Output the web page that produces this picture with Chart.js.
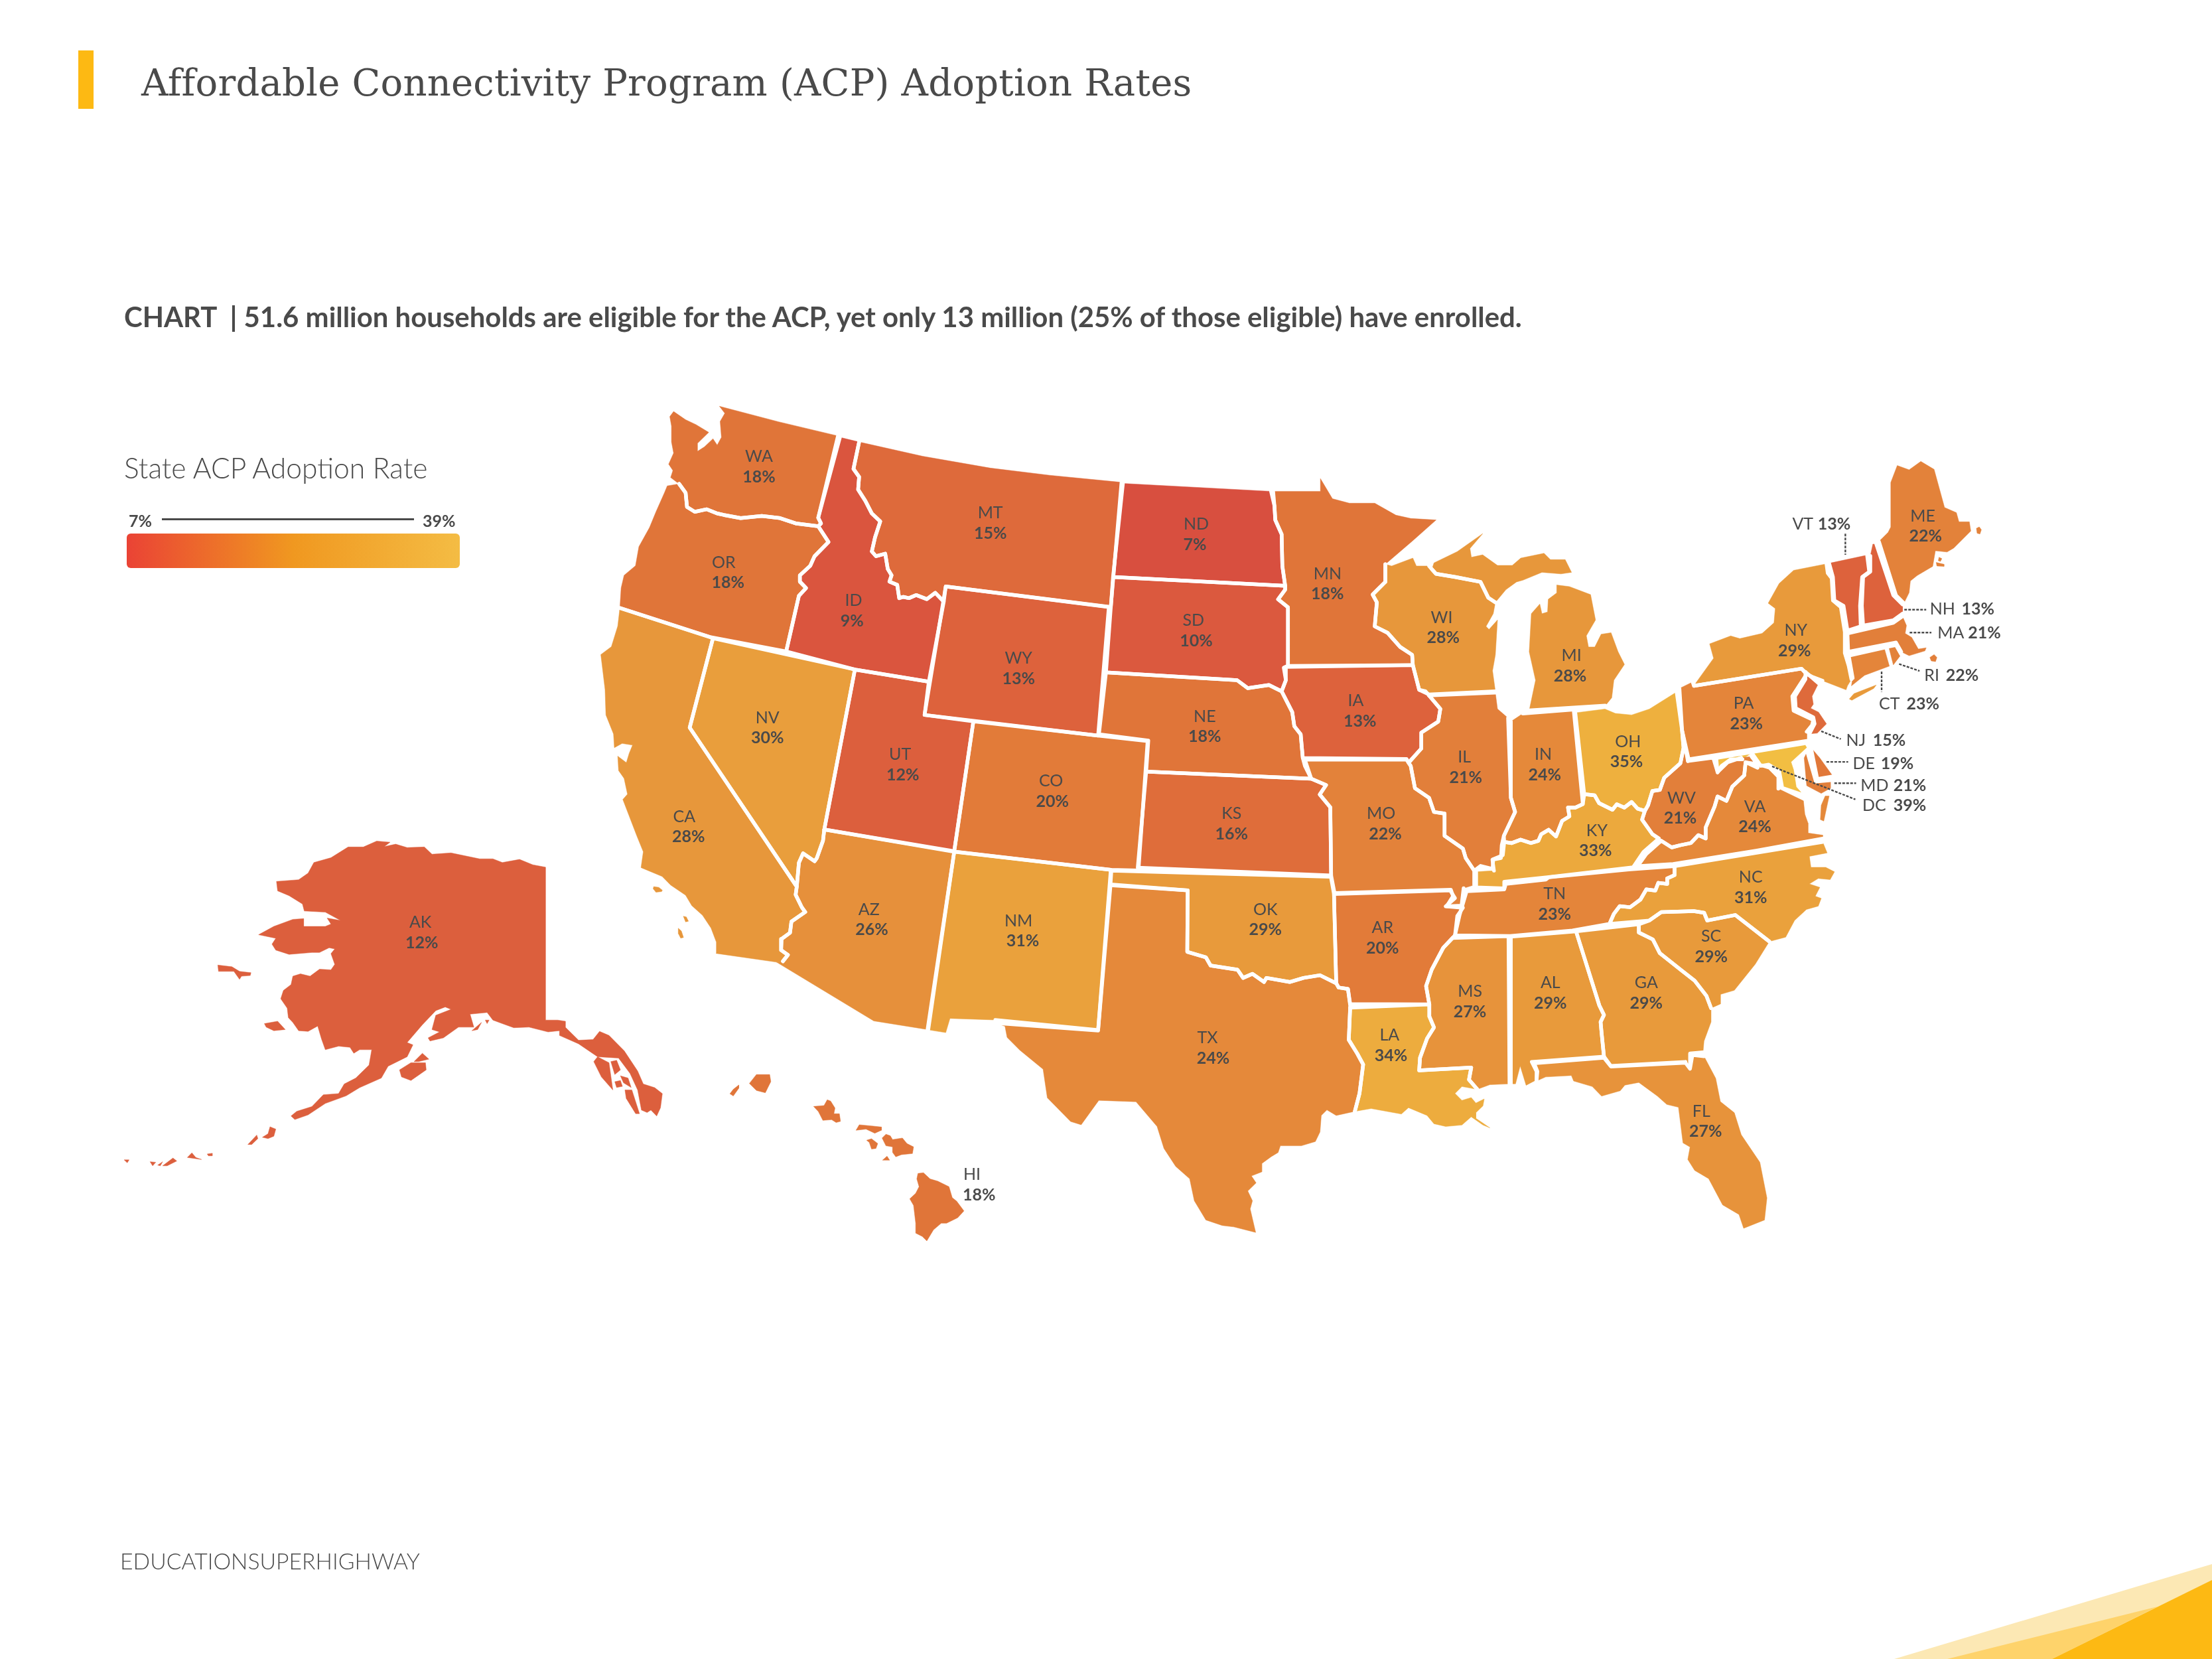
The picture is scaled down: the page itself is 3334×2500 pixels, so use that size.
<!DOCTYPE html>
<html>
<head>
  <title>Affordable Connectivity Program (ACP) Adoption Rates</title>
  <script src="https://cdn.jsdelivr.net/npm/chart.js"></script>
  <style>
    html, body { margin: 0; padding: 0; background: #fff; }
    #page { position: relative; width: 3334px; height: 2500px; overflow: hidden; color: #4a4a4a; font-family: Lato, sans-serif; }
    #page div, #page svg { position: absolute; white-space: nowrap; }
    canvas { position: absolute; left: 0; top: 0; }
    #flag { left: 118px; top: 76px; width: 23px; height: 88px; background: #fdb913; }
    #title { left: 213px; top: 90px; font: 400 56px/70px "DejaVu Serif", serif; letter-spacing: 0.2px; }
    #subtitle { left: 187px; top: 450px; font: 700 41.9px/54px Lato, sans-serif; }
    #legendTitle { left: 187px; top: 678px; font: 300 42.6px/54px Lato, sans-serif; }
    #legendMin { left: 194px; top: 769px; font: 700 25px/30px Lato, sans-serif; }
    #legendMax { left: 637px; top: 769px; font: 700 25px/30px Lato, sans-serif; }
    #legendLine { left: 244px; top: 781px; width: 380px; height: 3px; background: #4a4a4a; }
    #legendBar { left: 191px; top: 804px; width: 502px; height: 52px; border-radius: 6px;
      background: linear-gradient(90deg, #ea4335 0%, #f09820 50%, #f4bc44 100%); }
    #footer { left: 181px; top: 2332px; font: 300 33.7px/40px Lato, sans-serif; }
    #corner { left: 0; top: 0; }
  </style>
</head>
<body>
<div id="page">
  <canvas id="map" width="3334" height="2500"></canvas>
  <svg id="corner" width="3334" height="2500" viewBox="0 0 3334 2500">
    <polygon points="2855,2500 3334,2357 3334,2500" fill="#fce8b4"/>
    <polygon points="2935,2500 3252,2421 3093,2500" fill="#fed36b"/>
    <polygon points="3093,2500 3334,2381 3334,2500" fill="#fdb913"/>
  </svg>
  <div id="flag"></div>
  <div id="title">Affordable Connectivity Program (ACP) Adoption Rates</div>
  <div id="subtitle">CHART &nbsp;| 51.6 million households are eligible for the ACP, yet only 13 million (25% of those eligible) have enrolled.</div>
  <div id="legendTitle">State ACP Adoption Rate</div>
  <div id="legendMin">7%</div>
  <div id="legendLine"></div>
  <div id="legendMax">39%</div>
  <div id="legendBar"></div>
  <div id="footer">EDUCATIONSUPERHIGHWAY</div>
</div>

<script>
// values
const stateCodes = ['WA','OR','CA','NV','ID','MT','WY','UT','AZ','CO','NM','ND','SD','NE','KS','OK','TX','MN','IA','MO','AR','LA','WI','IL','MS','IN','MI','KY','TN','AL','OH','GA','FL','SC','NC','WV','VA','PA','NY','ME','HI','AK'];
const stateRates = [18,18,28,30,9,15,13,12,26,20,31,7,10,18,16,29,24,18,13,22,20,34,28,21,27,24,28,33,23,29,35,29,27,29,31,21,24,23,29,22,18,12];
const codeX = [538,513,485,544,605,702,722,638,616,745,722,848,846,854,873,897,856,941,961,979,980,985,1022,1038,1042,1094,1114,1132,1102,1099,1154,1167,1206,1213,1241,1192,1244,1236,1273,1363,689,298];
const rateX = [538,516,488,544,604,702,722,640,618,746,725,847,848,854,873,897,860,941,964,982,980,986,1023,1039,1042,1095,1113,1131,1102,1099,1153,1167,1209,1213,1241,1191,1244,1238,1272,1365,694,299];
const labelY = [323,398,578,508,425,363,466,534,644,553,652,371,439,507,576,644,735,406,496,576,657,733,437,536,702,534,464,588,633,696,525,696,787,663,621,565,571,498,446,365,832,653];

const calloutCodes = ['VT','NH','MA','RI','CT','NJ','DE','MD','DC'];
const calloutRates = [13,13,21,22,23,15,19,21,39];
const calloutCodeX = [1270.5,1368,1373.4,1364,1331.9,1308.6,1313.3,1318.9,1320.2];
const calloutRateX = [1288.5,1390.5,1395,1379.3,1351.4,1327.6,1333.2,1342.1,1342.1];
const calloutY = [370.8,431,448,478,498.3,524.3,540.7,555.9,570.4];
const calloutLeaders = [
  [[1308.1,378.3],[1308.1,393.2]], [[1349.9,432.2],[1365.4,432.2]], [[1353.7,448.4],[1369.1,448.4]],
  [[1346.2,470.7],[1360.7,475.6]], [[1333.8,476],[1333.8,490.4]], [[1291,518.3],[1304.9,523.9]],
  [[1294.7,540.1],[1310.1,540.1]], [[1300.3,555.2],[1315.7,555.2]], [[1256.2,543.3],[1315.2,566.7]]
];

const rampRates = [7,13,18,23,29,35,39];
const rampColors = [[216,79,63],[221,98,60],[224,117,57],[228,133,58],[232,154,59],[238,176,62],[242,190,66]];

// shared borders
const waOr = [[481.4,343],[486,349.3],[487,359.4],[492.5,362.8],[501,361],[508.4,364],[513,365],[525,367.3],[540,365.7],[553,367.3],[564,371],[580,373]];
const orId = [[587.3,384.2],[577.4,394.3],[574.4,401],[567,407.8],[567,412.3],[571.4,416.8],[566.3,422.4],[557.3,461.8]];
const idMt = [[609,313.3],[605,332.4],[609,338],[608.3,347],[613.4,355],[618,364],[624,369.6],[620.3,380.8],[618,390.9],[621,394.3],[627.5,392.5],[629.3,403.3],[632,407.8],[630.5,412.3],[636,414.6],[637.4,424],[640.4,423.1],[644.3,424],[649.4,421.8],[657,424.7],[663,420.2],[669,426.5]];
const caAz = [[564.8,628.5],[564,634.2],[568.4,643.2],[570.8,646.5],[561,653.3],[560,661.2],[554,665.6],[553.7,673.5],[558.5,676.9],[555,681.4],[550.4,682]];
const nvAz = [[584.3,588],[583.4,595.9],[579,608.3],[577.4,610.5],[569.3,604.9],[566.3,611.6],[564.8,628.5]];
const neSd = [[784,476.6],[877,482.2],[884.5,487.8],[899.5,485.6],[908.5,490]];
const neIa = [[908.5,490],[916,504.7],[917.5,514.8],[922,520.5],[923.5,537.3]];
const sdMn = [[911,415.2],[911,418],[906,424.8],[913,430.5],[913,472]];
const ndMn = [[901,348.3],[903.4,358.5],[904,368.6],[908.5,378.7],[909,401.2],[911,415.2]];
const mnWi = [[982,400],[982,412.5],[973,421.5],[976,427],[974.5,444],[983.5,448.5],[992.5,458.6],[1001,464.2],[1001.5,471.4]];
const wiMi = [[1015,403.5],[1018,406.8],[1031.5,409],[1049.5,412.5],[1055,423.7],[1060,427]];
const iaIl = [[1006,489],[1010.5,490],[1021,502.5],[1019.5,511.5],[1007.5,519.3],[1007.5,530.6],[998.5,540.7]];
const moIl = [[998.5,540.7],[1000,543],[1003,558.7],[1013,565.5],[1016.5,575.6],[1024,576.7],[1024,592.5],[1037,601.5],[1039,608.2],[1045,617.2]];
const ksMo = [[929.5,552],[940,556.5],[935.5,563.2],[943,572.2],[943.6,620.6]];
const inKy = [[1122,570],[1116.7,572.5],[1111.5,572.5],[1112.5,578.7],[1107.3,581.9],[1103,592.9],[1097.8,588.2],[1092.5,591.3],[1090.5,596],[1085.2,597.6],[1077.9,595.2],[1071.6,597.6],[1066.3,596.8]];
const ohKy = [[1123,563],[1130.4,563.8],[1133.5,569.3],[1143,574],[1146.1,570.1],[1151.4,572.5],[1156.6,568.5],[1160.8,573.2],[1166,574.8]];
const ohWv = [[1166,574.8],[1168.2,570.9],[1171.3,560.7],[1176.6,559.9],[1179.7,551.3],[1191.2,541],[1193.4,530],[1192.3,517.5]];
const kyWv = [[1166,574.8],[1164,581],[1171.3,591.3],[1175.9,594.4]];
const wvVa = [[1177.6,596],[1185,600.7],[1191.2,599.1],[1198.6,597.6],[1203.9,592],[1209.1,594.4],[1209.1,586.6],[1215.4,571.7],[1217.5,564.6],[1223.8,567.7],[1228,557.5],[1236.4,549.7],[1237.4,540.3]];
const tnNc = [[1187,614],[1187,620.3],[1181.8,622.7],[1181.8,626.6],[1175.5,625.8],[1173.4,631.3],[1167,630.5],[1162.9,637.6],[1155.5,643.1],[1148.2,642.3],[1144,647.8],[1140.9,654.9]];
const ncSc = [[1254.2,667.4],[1230.1,648.6],[1210.2,652.5],[1208,647],[1200.7,645.9],[1177.6,646.6],[1169.2,652.5]];
const gaSc = [[1161.7,655.2],[1161.7,661],[1171.6,665.9],[1176.6,675.7],[1191.4,687.4],[1201.3,695.2],[1209.6,705.9],[1212.9,714.6]];
const alGa = [[1117.2,660.2],[1133.7,712.7],[1137,719.5],[1134.6,724.4],[1135.3,732.2],[1137,749]];
const arMs = [[1031.4,663],[1023.1,671.8],[1014.9,687.3],[1010.9,699],[1013.2,712]];
const laMs = [[1013.2,712],[1013.2,720.5],[1016.5,728.3],[1011.6,736.1],[1006.6,749.8],[1006,758.7],[1042.9,756.8],[1041.3,765.3],[1047.2,772.2]];
const okTx = [[841.9,631.2],[841.6,674.7],[854.8,678.6],[858.1,684.4],[877.2,687.4],[881.2,693.2],[887.8,690.3],[896,696.1],[897.7,693.2],[914.2,696.1],[924.1,693.2],[935.7,691.3],[947.2,697]];
const laTx = [[956.1,737.1],[962.1,746.8],[966.3,754.6],[963.7,775.1],[960.4,787.8]];
const vtNh = [[1323.5,393.5],[1325,405.3],[1320,409],[1318.5,429.4],[1319,444]];
const nyVt = [[1294.7,399.7],[1295.6,406.2],[1298.4,409.9],[1299.3,425.7],[1304.9,430.4],[1307.7,448]];
const nyPa = [[1200.8,486.2],[1277,474],[1280.7,477.8]];
const njPa = [[1280.7,477.8],[1278.9,480.6],[1270.5,493.6],[1271.4,503.8],[1285.4,510.4],[1284.5,514],[1280.7,518.7]];

// state outlines
const WA = [[510,288],[552,299],[594,309],[580,367],[582,371],...waOr.slice().reverse(),[475.4,338.5],[477,333.5],[474,329],[477.5,321.2],[476,313.3],[476,302],[474.8,295.3],[477.5,291.7],[486,297.5],[493.4,301],[502.4,306.5],[494.3,314.4],[494.3,320],[499.4,316.7],[505.4,311],[508.4,315.5],[511.4,310],[510.5,298.7],[513.8,293]];
const OR = [[473,344.4],...waOr,...orId,[503.9,451.7],[439.4,431],[440.3,416.8],[442.4,407.8],[450.5,401],[452.9,387.5],[460.4,374],[465,362.8],[471,349.3]];
const ID = [[595.4,310],...idMt,[658.4,483.2],[606,474.6],...orId.slice().reverse(),[580,373],[582,371],[580,367]];
const MT = [[609,313.3],[654,323.4],[702,331.8],[744,336.9],[795,341.9],[787.4,430.3],[670.4,415.7],...idMt.slice().reverse()];
const WY = [[670.4,415.7],[786,430.3],[778.4,521.4],[655.4,506.8]];
const UT = [[606,474.6],[658.4,483.2],[655.4,506.8],[690,511.3],[676.4,603.4],[584.3,588]];
const NV = [[505.4,452.4],[606,474.6],[584.3,588],...nvAz.slice(1),[488.9,515.8]];
const CA = [[439.4,431],[505.4,452.4],[488.9,515.8],...caAz,[507.5,675.8],[507.8,667.9],[504,657.8],[498,648.8],[490.4,642],[486,634.6],[475.4,627.4],[469.4,621.3],[454.4,615],[456,603.8],[451.4,592.5],[441.5,566.7],[444.8,563],[442.4,551.8],[438.5,546.2],[437.9,536],[444,540.6],[446,534],[448.4,528.2],[441,527],[435.5,530],[434.9,520.3],[429.5,506.8],[428.9,488.8],[425.9,464],[433.4,458.4],[437.9,443.8]];
const AZ = [...nvAz,...caAz.slice(1),[619.4,723.7],[657.5,729.8],[676.4,603.8]];
const CO = [[690,511.3],[778.4,521.4],[813.5,525.3],[807,617],[787.4,616.6],[676.4,603.6]];
const NM = [[676.4,603.8],[787.4,616.6],[778.4,730.2],[705.5,723],[673.4,721.9],[670.4,732],[658,730]];
const ND = [[796,342.7],[901,348.3],...ndMn.slice(1),[789,409]];
const SD = [[789,409],[911,415.2],...sdMn.slice(1),[910,473.2],[911.5,482.2],...neSd.slice().reverse()];
const NE = [...neSd,...neIa,[925,543],[929.5,552],[812.5,547],[814,525],[779,520.5]];
const KS = [[812.5,547],...ksMo,[806.5,615]];
const OK = [[787.8,617.2],[943.4,621.5],[945.6,633.7],...okTx.slice().reverse(),[787.2,626.9]];
const TX = [[787.2,627.5],...okTx,[948.9,700],[955.5,701],[957.1,713],...laTx,[947.2,790.7],[940.6,786.8],[936.6,790.7],[935.7,802.4],[932.4,809.2],[922.5,812.2],[907.6,812.2],[906,817],[901,820],[894.4,824.8],[894.4,830.7],[887.1,833.6],[890.4,838.5],[884.5,844.3],[887.8,851.2],[886.2,857],[890.1,873.6],[874.6,869.7],[866.4,868.7],[854.8,864.8],[846.6,851.2],[843.3,835.6],[833.4,826.8],[825.1,814.1],[820.2,798.5],[805.3,781],[778.9,780],[766.4,797.3],[758.9,795],[742.4,778.2],[739.4,757.9],[722.9,744.4],[713.9,735.4],[712.4,727.5],[706.4,725.3],[778.4,730.5]];
const MN = [[902.5,348.3],[936,348.3],[936,339.3],[944.5,353.5],[956.5,356.7],[974.5,356.7],[989.5,365.2],[1000,367.5],[1018,368.6],[1001.5,383.2],...mnWi,[913,472],...sdMn.slice().reverse().slice(1),...ndMn.slice().reverse().slice(1,-1)];
const IA = [[911.5,472.7],[1001.5,471.4],...iaIl,[997,538],[923.5,537.3],...neIa.slice().reverse().slice(1),[911.5,482.2]];
const MO = [[925,538.5],[997,538.5],...moIl,[1045,627.3],[1037.5,629.6],[1036,642],[1025.5,642.4],[1030,635.2],[1028.5,630.7],[946,633],...ksMo.slice().reverse()];
const AR = [[945.6,633.7],[1028,631.2],[1031.4,636.7],[1024.8,642.5],[1037,643.5],[1033,649.3],...arMs,[957.1,711.7],[955.5,701],[948.9,700],[947.2,697]];
const LA = [[957.1,714.3],...laMs,[1036.3,770.2],[1031.4,775.1],[1036.3,780],[1042.9,778],[1046.2,781.9],[1052.1,779],[1051.2,783.9],[1046.2,788.8],[1046.2,792.7],[1056.1,799.5],[1051.2,797.5],[1042.9,791.7],[1036.3,797.5],[1024.8,798.5],[1016.5,796.6],[1011.6,790.7],[998.4,785.2],[993.4,789.7],[972,785.8],...laTx.slice().reverse()];
const WI = [[986.5,401.2],[1001.5,395.6],[1004,401.2],[1013,401.2],...wiMi,[1058.5,435],[1053.4,444],[1055.5,446.2],[1061.5,439.5],[1060,464.2],[1058,475.5],[1060,490],[1013,492.3],[1006,489],...mnWi.slice().reverse()];
const IL = [[1013,493],[1060,491],[1061.5,502.5],[1069,509],[1071,565.5],[1074,575.6],[1066,592.5],[1064.5,599.2],[1064,608.2],[1058.5,609.3],[1058,616],[1049.5,613.8],...moIl.slice().reverse(),...iaIl.slice().reverse().slice(1,-2)];
const IN = [[1071,511.5],[1079.5,505.8],[1115.5,503],...inKy,[1066,592.5],[1074,575.6],[1071,565.5]];
const OH = [[1116.7,505.3],[1137.7,502.6],[1145,505.7],[1156.6,506.8],[1169.2,502.6],[1188.5,490.5],...ohWv.slice().reverse(),...ohKy.slice().reverse()];
const KY = [...ohKy,...kyWv.slice(1),[1165,603.9],[1157.6,614.8],[1096.8,621.9],[1066.3,625],[1066.3,629.8],[1046.4,629],[1046.4,618],[1059,617.2],[1057.9,609.3],[1065.3,606.2],...inKy.slice().reverse()];
const TN = [[1039.6,631.8],[1066.3,630.5],[1067.4,626.6],[1095.7,623.5],[1097.8,621.9],[1154.5,616.4],...tnNc,[1114.6,659.6],[1070.5,663.5],[1031.4,663],[1034.7,648.4]];
const MS = [[1029.7,664.9],[1069.3,663.6],[1070,768.3],[1056.1,768.9],...laMs.slice().reverse(),...arMs.slice().reverse().slice(0,-1)];
const AL = [[1071,664],...alGa,[1085.8,752.7],[1089.2,759.5],[1089.2,765.4],[1081.8,769.3],[1077.6,755.6],[1074.3,768.3],[1071,768.3]];
const GA = [...alGa,[1141.9,755.6],[1194.7,752.7],[1198,755.6],[1198,746.8],[1207.2,745.9],[1207.9,738],[1212.9,724.4],...gaSc.slice().reverse()];
const FL = [[1087.5,753.7],[1137,749.8],[1141.9,756],[1194.7,753.3],[1198,757.6],[1199.7,747.8],[1207.9,748.8],[1216.2,764.4],[1219.5,780.9],[1229.4,788.8],[1234.3,804.4],[1247.5,823.9],[1252.5,849.2],[1250.8,864.8],[1236,870.7],[1232.7,860.9],[1221.1,854.1],[1211.2,835.5],[1201.3,829.7],[1196.4,821.9],[1198,813.1],[1193,810.2],[1189.8,784.9],[1181.5,782.9],[1174.9,777],[1161.7,767.3],[1151.8,769.2],[1148.5,773.2],[1135.3,777],[1128.7,770.2],[1115.5,766.3],[1113.9,762.4],[1095.7,763.4],[1089.2,766.3],[1089.8,759.5]];
const SC = [[1161.7,655.2],[1169.2,652.5],[1177.6,646.6],[1200.7,645.9],[1208,647],[1210.2,652.5],[1230.1,648.6],[1254.2,667.4],[1244.2,683.5],[1229.4,702],[1219.5,704.9],[1219.5,711.7],[1212.9,714.6],...gaSc.slice().reverse().slice(1,-1)];
const NC = [...tnNc,...ncSc.slice().reverse(),[1265.8,664.3],[1272.1,652.5],[1280.5,644.7],[1288.9,642.3],[1291,636.8],[1286.8,635.3],[1290,629],[1282.6,626.6],[1288.9,622.7],[1297.3,623.5],[1300.4,618],[1294.2,614.8],[1283.7,614.8],[1282.6,607],[1295.2,604.6],[1292,596.8]];
const WV = [[1196.5,539.5],[1214.4,537.1],[1217.5,547.3],[1224.8,540.3],[1234.3,537.1],[1241.6,536.3],[1245.8,541.8],[1237.4,540.3],...wvVa.slice().reverse(),...kyWv.slice().reverse(),...ohWv.slice(1)];
const VA = [[1160.8,614],[1167,605.4],...wvVa,[1245.9,544.2],[1249,542.6],[1254.3,544.2],[1260.6,550.5],[1260.6,559.1],[1278.4,567.7],[1279.4,577.2],[1281.6,583.4],[1281.6,590.5],[1292,592],[1292,594.4],[1244.8,603],[1186,612.5]];
const PA = [[1190.5,488],[1199.8,483.4],...nyPa,...njPa,[1280.7,525.2],[1197,538.2],[1192.4,517.8]];
const NY = [[1202.6,483.4],[1214.7,466.6],[1211.9,456.4],[1226.8,450.8],[1233.3,452.7],[1249.1,449],[1257.5,441.5],[1258.4,431.3],[1253.4,427.6],[1261.2,413.6],[1271.4,404.3],...nyVt,[1307.7,462.9],[1310.5,472.2],[1312.4,481.5],[1309.6,486.2],[1308.6,489],[1291.9,482.5],[1284.5,479.7],[1280.7,477.8],[1277,474],[1200.8,486.2]];
const VT = [[1296.6,399.3],...vtNh,[1309.6,447.1],[1306.8,429.4],[1300.3,425.7],[1299.3,409]];
const NH = [[1327.6,385.7],[1330,385.7],[1342.1,422],[1348.6,428.5],[1348.6,435],[1342.1,439.7],[1320.7,443.4],[1319.8,429.4],[1320.7,409],[1325.8,405.3],[1325.8,394.1]];
const ME = [[1331.9,383.9],[1338.4,377.4],[1340.3,373.6],[1340.3,342],[1344.9,330],[1353.3,333],[1361.6,327.1],[1371,332.7],[1378.4,359.7],[1386.8,363.4],[1388.6,369.9],[1396,369.9],[1397,376.4],[1384.9,388.5],[1380.2,391.3],[1371.9,390.4],[1370,401.5],[1359,408],[1354.2,411.8],[1353.3,420.1],[1349.6,427.6],[1344,422]];
const MA = [[1309.6,449],[1342.1,441.5],[1348.6,436.9],[1351.4,443.4],[1350.5,449],[1355.1,451.8],[1359.8,460.1],[1365.4,459.2],[1364.5,461.4],[1353.3,464.8],[1347.7,462],[1344,455.5],[1310.1,462]];
const CT = [[1310.5,464.8],[1335.6,459.2],[1339.3,472.2],[1321.7,478.7],[1312.4,486.2],[1313.3,480.6]];
const RI = [[1338.8,458.3],[1344,457.3],[1347.7,463.9],[1342.1,471.3]];
const NJ = [[1279.8,476.3],[1289.1,484.3],[1284.5,493.6],[1285.4,499.2],[1283.5,502],[1289.1,504.8],[1294.7,513.1],[1288.2,519.7],[1282.6,520.2],[1286.3,513.1],[1285.4,508.5],[1272.9,502],[1272.4,493.6],[1279.8,481.5]];
const DE = [[1283.7,529.9],[1290,537.3],[1299.3,550.3],[1288.2,552.2]];
const MDwest = [[1216.6,537.3],[1278.9,527],[1280.7,529.9],[1269.6,540.1],[1271.4,545.7],[1273.3,557.8],[1276.6,561.5],[1263.1,556.9],[1261.2,546.6],[1253.8,542],[1248.2,542.9],[1241.7,533.6],[1235.2,538.3],[1226.8,538.3],[1220.3,542.9],[1217.5,547.6]];
const MDeast = [[1281.1,532.7],[1287.2,554],[1297.5,553.1],[1297.5,558.7],[1291,562.4],[1280.7,556.9],[1278.9,537.3]];
const AK = [[386.6,614.7],[386.6,723.1],[395.3,723.1],[400.7,723.9],[400.7,728.1],[410.1,737.4],[420.4,736.9],[425,731.1],[431.7,734],[442.5,744.9],[452,759.2],[456,768.4],[464.1,771],[469.5,775.2],[468.2,785.2],[465.5,791.1],[461.4,786.9],[458.7,788.6],[454.7,786.9],[452,772.6],[446.6,760.9],[438.5,750],[423.6,749.1],[410.1,739.9],[396.6,734],[396.6,730.6],[388.5,731.5],[375,728.1],[364.2,728.5],[356.1,725.6],[349.4,723.1],[345.3,717.7],[333.2,718.9],[335.9,728.1],[325,728.1],[314.3,735.7],[304.8,737.9],[303.5,735.7],[311.6,731.5],[306.2,729.8],[308.9,719.7],[319.7,715.5],[315.6,713.8],[308.9,716.4],[299.4,726.4],[288.6,739],[292.7,740.7],[288.6,749.1],[275.1,755.8],[270.3,764.2],[254.9,771],[245.4,776.8],[230.6,782.2],[218.4,790.3],[209,793.6],[206.3,791.1],[210.3,787.8],[221.1,784.4],[229.2,776],[240,775.2],[244,768.4],[252.2,764.2],[261.6,755],[263.5,744.1],[254.9,744.1],[250.8,746.6],[248.1,742.4],[240,741.6],[230.6,744.1],[227.9,736.5],[225.2,727.3],[218.4,731.1],[211.7,730.6],[207.6,724.8],[204.4,721.4],[203.6,714.7],[199,708],[200.9,702.1],[206.3,697.9],[207.6,692],[213,690.3],[219.8,692],[226.5,687],[234.6,687.5],[237.3,683.6],[234.6,676],[237.3,672.7],[233.3,671.8],[226.5,675.2],[221.1,675.2],[204.9,676.5],[195.5,673.5],[192.8,669.3],[195.5,665.1],[183.3,662.6],[194.1,656.7],[207.6,651.7],[215.2,651.2],[215.2,656.7],[230.6,656.7],[234.6,655],[231.9,650.8],[241.4,652.5],[230.6,646.6],[215.7,645.8],[214.4,640.8],[204.9,634.9],[196.8,631.5],[196,624.8],[211.7,623.6],[218.4,618.9],[222.5,611.4],[234.6,608],[246.8,600.4],[257.6,600.4],[267,596.2],[276.5,597],[272.4,600.1],[280.5,598.4],[288.6,600.8],[300.8,600.4],[306.2,605.5],[319.7,604.6],[340,608.8],[349.4,608.8],[356.1,611.4],[368.3,609.2],[377.7,613]];
const MIupper = [[1015,403.5],[1016.5,399],[1033,391],[1051,378.3],[1042,388.8],[1043,395],[1051,393.3],[1061.5,400.8],[1072,400.8],[1078,395.6],[1094.5,392.2],[1099,396.7],[1109.5,396.7],[1114,405.7],[1106.5,406.8],[1093,405.7],[1079.5,411.3],[1075,412.5],[1067.5,418],[1060,427],[1055,423.7],[1049.5,412.5],[1031.5,409],[1018,406.8]];
const MIlower = [[1103.5,414.7],[1112.5,415.8],[1127.5,421.5],[1131,439.5],[1124.5,450.7],[1126,458.6],[1130.5,458.6],[1135,449.6],[1142,448.5],[1147,462],[1151.5,471],[1144,482.2],[1142.5,494.6],[1138,500.2],[1084,503.6],[1088.5,482.2],[1084,462],[1085.5,435],[1091.5,428.2],[1093,435],[1097,433.8],[1097.5,424.8],[1103.5,420.3]];

// islands, no white outline
const caIslands = [
  [[463.4,628.5],[467,629],[469.5,631],[469,632],[465,632.5],[463,630]],
  [[484.4,649.5],[486.5,650],[488,653],[486,653.5]],
  [[480.8,658],[483,660],[484.5,664.5],[482.5,665],[481,662]]
];
const nyIslands = [[[1310.9,495.5],[1314.2,491.7],[1330,485.6],[1328.2,488],[1316.1,494.5],[1312.7,496.4]]];
const meIslands = [
  [[1401,374.5],[1403,373.5],[1404.5,375.5],[1403.5,378.5],[1401.5,378]],
  [[1374.5,395],[1376.5,396],[1375.5,398],[1374,397.5]],
  [[1372.5,398.7],[1378,400],[1378,401.5],[1373,401.2]]
];
const maIslands = [[[1368,466],[1371,464],[1373,466],[1372,469],[1369,468.5]]];
const vaIslands = [[[1293.8,564.3],[1296.6,564.3],[1292.8,582],[1290.4,581],[1291,570.8]]];
const akIslands = [
  [[154.4,684.1],[164.4,685.3],[169.8,688.6],[177.9,689.5],[177.4,691.5],[171.2,692],[169.8,694.2],[165.8,688.6],[154.9,688.6]],
  [[187.4,725.6],[196.8,723.9],[202.2,729.8],[194.1,730.6],[188.7,728.1]],
  [[283.2,758.4],[291.3,753.3],[301.6,753.3],[302.1,758.4],[291.3,765.9],[284.6,763.4]],
  [[293.5,752.5],[299.4,746.6],[304,750.8],[296.7,752.5]],
  [[334.5,730.6],[341.3,724.8],[338.6,729.8]],
  [[344,723.1],[346.7,723.1],[345.3,725.6]],
  [[420.9,752.5],[423.6,749.1],[431.7,753.3],[434.4,772.6],[426.3,763.4]],
  [[433,752.5],[437.1,751.6],[439.8,758.4],[435.8,761.7]],
  [[435.8,766.8],[439.8,765.9],[441.2,770.1],[437.1,770.9]],
  [[439.8,762.6],[445.2,764.2],[447.4,770.9],[442,767.6]],
  [[443,772.6],[447.9,772.6],[453.3,789.4],[450.6,789.4],[443.9,778.6]],
  [[175.7,811.3],[182,804.6],[182.8,807.1],[178.4,811.3]],
  [[186,806.2],[190,803.7],[191.4,798.7],[195.5,800.4],[194.1,805.4],[190,807.1]],
  [[132.8,820.5],[136,817.2],[138.8,820.5],[142.8,821.9]],
  [[146.9,818],[150.4,817.5],[150.4,819.3],[147.7,819.3]],
  [[115.3,826.4],[122.6,820.9],[125.3,823],[118.5,826.4]],
  [[111.8,825.9],[115.3,823.5],[113.6,826.4]],
  [[106.4,823.5],[110.4,823.9],[108.2,826.4]],
  [[88,822.2],[91.5,822.2],[90.2,824.2]]
];
const hiIslands = [
  [[650.7,831.8],[654.6,831.3],[659.3,835.7],[664.8,837.3],[672.7,841.2],[675,849],[678.1,851.4],[683.3,858.4],[678.9,863.2],[671,867.1],[667.2,867.1],[661.7,871.8],[657,879.6],[653.8,876.5],[649.1,874.1],[649.1,867.1],[647.6,854.5],[644.9,849.8],[649.1,845.9],[651.5,841.2],[649.9,835.7]],
  [[625.3,806.7],[628,804],[631.1,805.1],[632.7,807.8],[639.7,806.7],[642.9,810.6],[647.6,813],[646.8,817.7],[639,818.5],[635,820],[632.7,816.9],[632.7,813],[628,812.2]],
  [[606.8,801.2],[609.1,797.3],[617.8,798.1],[624.8,798.9],[624.8,801.2],[620.1,803.3],[613.9,800.4]],
  [[614.3,808.3],[617.8,807.2],[622.2,810.6],[620.9,814.1],[617.8,814.5],[616.2,809.8]],
  [[625.6,822.4],[628.8,819.6],[630.6,822.4]],
  [[576.7,784.3],[584.1,783.7],[586.4,779.6],[588.8,780.5],[591.9,785.5],[591.1,789.5],[595,789.5],[595.8,794.9],[592.7,795.7],[589.5,793.7],[583.3,794.2],[580.1,787.9]],
  [[531.2,768],[536.2,761.7],[545.6,761.7],[546.4,766.7],[542.5,774.6],[536.2,773]],
  [[517.4,775.3],[519.8,772.2],[523.7,769.1],[523.7,771.4],[519.8,776.9]]
];

const outlinedShapes = [
  [WA,18],[OR,18],[CA,28],[NV,30],[ID,9],[MT,15],[WY,13],[UT,12],[AZ,26],[CO,20],[NM,31],[ND,7],[SD,10],[NE,18],[KS,16],[OK,29],[TX,24],
  [MN,18],[IA,13],[MO,22],[AR,20],[LA,34],[WI,28],[IL,21],[MS,27],[IN,24],[MIupper,28],[MIlower,28],[KY,33],[TN,23],[AL,29],[OH,35],[GA,29],[FL,27],
  [SC,29],[NC,31],[WV,21],[VA,24],[PA,23],[NY,29],[VT,13],[NH,13],[ME,22],[MA,21],[CT,23],[RI,22],[NJ,15],[DE,19],[MDwest,39],[MDeast,21]
];
const plainShapes = [
  [AK,12],...akIslands.map(r => [r,12]),...hiIslands.map(r => [r,18]),...caIslands.map(r => [r,28]),
  ...nyIslands.map(r => [r,29]),...meIslands.map(r => [r,22]),...maIslands.map(r => [r,21]),...vaIslands.map(r => [r,24])
];

function rateColor(rate) {
  let i = 0;
  while (i < rampRates.length - 2 && rate > rampRates[i + 1]) i++;
  const t = (rate - rampRates[i]) / (rampRates[i + 1] - rampRates[i]);
  const c = rampColors[i].map((v, k) => Math.round(v + t * (rampColors[i + 1][k] - v)));
  return `rgb(${c[0]},${c[1]},${c[2]})`;
}

function inRing(x, y, ring) {
  let inside = false;
  for (let i = 0, j = ring.length - 1; i < ring.length; j = i++) {
    const a = ring[i], b = ring[j];
    if ((a[1] > y) !== (b[1] > y) && x < (b[0] - a[0]) * (y - a[1]) / (b[1] - a[1]) + a[0]) inside = !inside;
  }
  return inside;
}
const onLand = (x, y) => outlinedShapes.some(s => inRing(x, y, s[0]));

// a segment with open water on one side is coast and gets no white line
function isCoast(p, q) {
  const dx = q[0] - p[0], dy = q[1] - p[1], len = Math.hypot(dx, dy) || 1;
  const mx = (p[0] + q[0]) / 2, my = (p[1] + q[1]) / 2;
  const nx = -dy / len * 3, ny = dx / len * 3;
  return !onLand(mx + nx, my + ny) || !onLand(mx - nx, my - ny);
}

const toPoints = ring => [...ring, ring[0]].map(p => ({x: p[0], y: p[1]}));

function fillDataset(ring, rate) {
  return {
    data: toPoints(ring),
    showLine: true,
    fill: 'shape',
    backgroundColor: rateColor(rate),
    borderColor: rateColor(rate),
    borderWidth: 0.5,
    pointRadius: 0
  };
}

function borderDataset(ring) {
  const closed = [...ring, ring[0]];
  const coast = closed.slice(0, -1).map((p, i) => isCoast(p, closed[i + 1]));
  return {
    data: toPoints(ring),
    showLine: true,
    fill: false,
    borderColor: '#ffffff',
    borderWidth: 5.5,
    borderJoinStyle: 'round',
    borderCapStyle: 'round',
    pointRadius: 0,
    segment: {borderColor: c => coast[c.p0DataIndex] ? 'rgba(255,255,255,0)' : '#ffffff'}
  };
}

const leaderSets = calloutLeaders.map(seg => ({
  data: seg.map(p => ({x: p[0], y: p[1]})),
  showLine: true,
  fill: false,
  borderColor: '#4a4a4a',
  borderWidth: 2.4,
  borderDash: [4, 2],
  pointRadius: 0
}));

// state code and rate text, placed through the scales
const labelPlugin = {
  id: 'stateLabels',
  afterDatasetsDraw(chart) {
    const {ctx, scales} = chart;
    const sx = scales.x, sy = scales.y;
    ctx.save();
    ctx.fillStyle = '#4a4a4a';
    ctx.textBaseline = 'middle';
    ctx.textAlign = 'center';
    stateCodes.forEach((code, i) => {
      ctx.font = '400 25px Lato, sans-serif';
      ctx.fillText(code, sx.getPixelForValue(codeX[i]), sy.getPixelForValue(labelY[i] + 0.8));
      ctx.font = '700 25px Lato, sans-serif';
      ctx.fillText(stateRates[i] + '%', sx.getPixelForValue(rateX[i]), sy.getPixelForValue(labelY[i] + 15.2));
    });
    ctx.textAlign = 'left';
    calloutCodes.forEach((code, i) => {
      ctx.font = '400 25px Lato, sans-serif';
      ctx.fillText(code, sx.getPixelForValue(calloutCodeX[i]), sy.getPixelForValue(calloutY[i] + 0.8));
      ctx.font = '700 25px Lato, sans-serif';
      ctx.fillText(calloutRates[i] + '%', sx.getPixelForValue(calloutRateX[i]), sy.getPixelForValue(calloutY[i] + 0.8));
    });
    ctx.restore();
  }
};

new Chart(document.getElementById('map'), {
  type: 'scatter',
  data: {
    datasets: [
      ...leaderSets,
      ...outlinedShapes.map(s => borderDataset(s[0])),
      ...outlinedShapes.map(s => fillDataset(s[0], s[1])),
      ...plainShapes.map(s => fillDataset(s[0], s[1]))
    ]
  },
  options: {
    responsive: false,
    devicePixelRatio: 1,
    animation: false,
    layout: {padding: 0},
    scales: {
      x: {type: 'linear', min: 0, max: 1568, display: false},
      y: {type: 'linear', min: 0, max: 1176, reverse: true, display: false}
    },
    plugins: {legend: {display: false}, tooltip: {enabled: false}, title: {display: false}}
  },
  plugins: [labelPlugin]
});
</script>
</body>
</html>
